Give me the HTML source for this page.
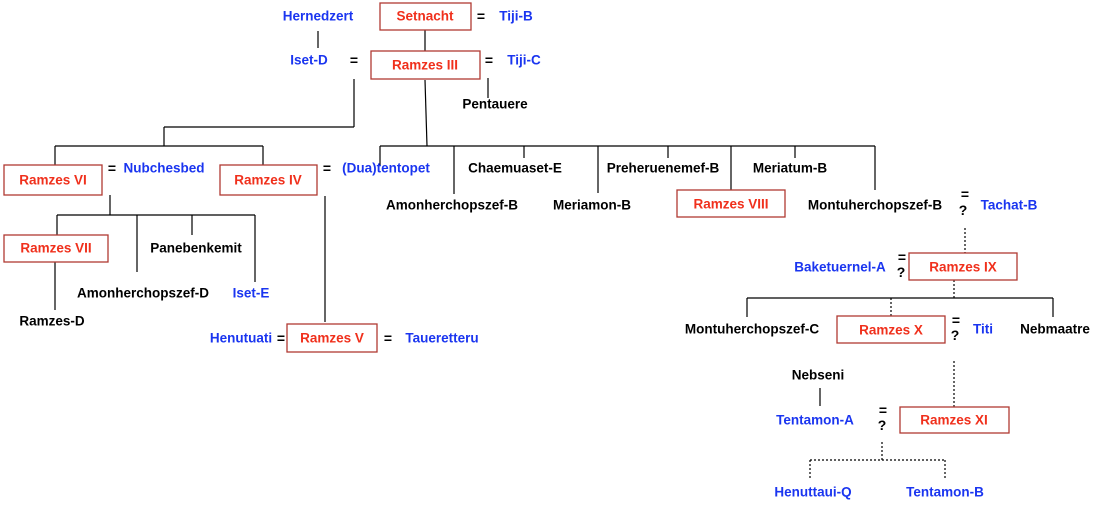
<!DOCTYPE html>
<html><head><meta charset="utf-8"><style>
html,body{margin:0;padding:0;background:#fff;}
svg{display:block;}
text{font-family:"Liberation Sans",sans-serif;font-size:13.5px;font-weight:bold;text-anchor:middle;dominant-baseline:central;}
.b{fill:#1a35f0}.k{fill:#000}.r{fill:#f0301c}
.e{font-weight:bold;font-size:14px}
rect{fill:#fff;stroke:#b03a32;stroke-width:1.3}
line{stroke:#000;stroke-width:1.2}
.d{stroke-dasharray:2,2}
</style></head><body>
<svg width="1099" height="506" viewBox="0 0 1099 506" xmlns="http://www.w3.org/2000/svg">
<line x1="318" y1="31" x2="318" y2="48"/>
<line x1="425" y1="30" x2="425" y2="51"/>
<line x1="488" y1="78" x2="488" y2="98"/>
<line x1="354" y1="79" x2="354" y2="127"/>
<line x1="164" y1="127" x2="354" y2="127"/>
<line x1="164" y1="127" x2="164" y2="146"/>
<line x1="55" y1="146" x2="263" y2="146"/>
<line x1="55" y1="146" x2="55" y2="165"/>
<line x1="263" y1="146" x2="263" y2="165"/>
<line x1="425" y1="80" x2="427" y2="146"/>
<line x1="380" y1="146" x2="875" y2="146"/>
<line x1="380" y1="146" x2="380" y2="166"/>
<line x1="454" y1="146" x2="454" y2="194"/>
<line x1="524" y1="146" x2="524" y2="158"/>
<line x1="598" y1="146" x2="598" y2="193"/>
<line x1="668" y1="146" x2="668" y2="158"/>
<line x1="731" y1="146" x2="731" y2="190"/>
<line x1="795" y1="146" x2="795" y2="158"/>
<line x1="875" y1="146" x2="875" y2="190"/>
<line x1="110" y1="195" x2="110" y2="215"/>
<line x1="57" y1="215" x2="255" y2="215"/>
<line x1="57" y1="215" x2="57" y2="235"/>
<line x1="137" y1="215" x2="137" y2="272"/>
<line x1="192" y1="215" x2="192" y2="235"/>
<line x1="255" y1="215" x2="255" y2="282"/>
<line x1="55" y1="262" x2="55" y2="310"/>
<line x1="325" y1="196" x2="325" y2="322"/>
<line class="d" x1="965" y1="228" x2="965" y2="253"/>
<line class="d" x1="954" y1="280" x2="954" y2="298"/>
<line x1="747" y1="298" x2="1053" y2="298"/>
<line x1="747" y1="298" x2="747" y2="317"/>
<line class="d" x1="891" y1="298" x2="891" y2="316"/>
<line x1="1053" y1="298" x2="1053" y2="317"/>
<line class="d" x1="954" y1="361" x2="954" y2="407"/>
<line x1="820" y1="388" x2="820" y2="406"/>
<line class="d" x1="882" y1="442" x2="882" y2="460"/>
<line class="d" x1="810" y1="460" x2="945" y2="460"/>
<line class="d" x1="810" y1="460" x2="810" y2="478"/>
<line class="d" x1="945" y1="460" x2="945" y2="478"/>
<rect x="380" y="3" width="91" height="27"/><text class="r" x="425" y="16">Setnacht</text>
<rect x="371" y="51" width="109" height="28"/><text class="r" x="425" y="65">Ramzes III</text>
<rect x="4" y="165" width="98" height="30"/><text class="r" x="53" y="180">Ramzes VI</text>
<rect x="220" y="165" width="97" height="30"/><text class="r" x="268" y="180">Ramzes IV</text>
<rect x="4" y="235" width="104" height="27"/><text class="r" x="56" y="248">Ramzes VII</text>
<rect x="287" y="324" width="90" height="28"/><text class="r" x="332" y="338">Ramzes V</text>
<rect x="677" y="190" width="108" height="27"/><text class="r" x="731" y="204">Ramzes VIII</text>
<rect x="909" y="253" width="108" height="27"/><text class="r" x="963" y="267">Ramzes IX</text>
<rect x="837" y="316" width="108" height="27"/><text class="r" x="891" y="330">Ramzes X</text>
<rect x="900" y="407" width="109" height="26"/><text class="r" x="954" y="420">Ramzes XI</text>
<text class="b" x="318" y="16">Hernedzert</text>
<text class="k e" x="481" y="16">=</text><text class="b" x="516" y="16">Tiji-B</text>
<text class="b" x="309" y="60">Iset-D</text><text class="k e" x="354" y="60">=</text>
<text class="k e" x="489" y="60">=</text><text class="b" x="524" y="60">Tiji-C</text>
<text class="k" x="495" y="104">Pentauere</text>
<text class="k e" x="112" y="168">=</text><text class="b" x="164" y="168">Nubchesbed</text>
<text class="k e" x="327" y="168">=</text><text class="b" x="386" y="168">(Dua)tentopet</text>
<text class="k" x="515" y="168">Chaemuaset-E</text>
<text class="k" x="663" y="168">Preheruenemef-B</text>
<text class="k" x="790" y="168">Meriatum-B</text>
<text class="k" x="452" y="205">Amonherchopszef-B</text>
<text class="k" x="592" y="205">Meriamon-B</text>
<text class="k" x="875" y="205">Montuherchopszef-B</text>
<text class="k e" x="965" y="194">=</text><text class="k e" x="963" y="210">?</text>
<text class="b" x="1009" y="205">Tachat-B</text>
<text class="b" x="840" y="267">Baketuernel-A</text>
<text class="k e" x="902" y="257">=</text><text class="k e" x="901" y="272">?</text>
<text class="k" x="196" y="248">Panebenkemit</text>
<text class="k" x="143" y="293">Amonherchopszef-D</text>
<text class="b" x="251" y="293">Iset-E</text>
<text class="k" x="52" y="321">Ramzes-D</text>
<text class="b" x="241" y="338">Henutuati</text><text class="k e" x="281" y="338">=</text>
<text class="k e" x="388" y="338">=</text><text class="b" x="442" y="338">Taueretteru</text>
<text class="k" x="752" y="329">Montuherchopszef-C</text>
<text class="k e" x="956" y="320">=</text><text class="k e" x="955" y="335">?</text>
<text class="b" x="983" y="329">Titi</text>
<text class="k" x="1055" y="329">Nebmaatre</text>
<text class="k" x="818" y="375">Nebseni</text>
<text class="b" x="815" y="420">Tentamon-A</text>
<text class="k e" x="883" y="410">=</text><text class="k e" x="882" y="425">?</text>
<text class="b" x="813" y="492">Henuttaui-Q</text>
<text class="b" x="945" y="492">Tentamon-B</text>
</svg>
</body></html>
